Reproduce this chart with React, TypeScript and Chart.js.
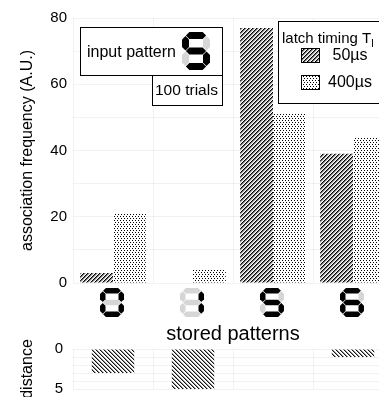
import React, { useEffect, useRef } from "react";
import { Chart, registerables } from "chart.js";

Chart.register(...registerables);

const storedPatterns = ["0", "1", "5", "6"];
const freq50 = [3, 0, 77, 39];
const freq400 = [21, 4, 51, 44];
const distanceValues = [3, 5, 0, 1];
const seriesLabels = ["50µs", "400µs"];
const freqTickLabels = [0, 20, 40, 60, 80];
const distanceTickLabels = [0, 5];
const inputPattern = "5";
const trialCount = 100;

const FONT = "'Liberation Sans', Arial, sans-serif";
const SEGMENTS: Record<string, string> = {
  "0": "abcdef",
  "1": "bc",
  "2": "abged",
  "3": "abgcd",
  "4": "fgbc",
  "5": "afgcd",
  "6": "afgedc",
  "7": "abc",
  "8": "abcdefg",
  "9": "abcdfg",
};

function makePattern(kind: "fwd" | "back" | "dots"): CanvasPattern | string {
  const w = kind === "dots" ? 6 : 4;
  const h = 4;
  const c = document.createElement("canvas");
  c.width = w;
  c.height = h;
  const g = c.getContext("2d");
  if (!g) return "#888";
  const img = g.createImageData(w, h);
  for (let y = 0; y < h; y++) {
    for (let x = 0; x < w; x++) {
      let v = 255;
      if (kind === "fwd") {
        const k = (x + y) % 4;
        v = k === 0 ? 0 : k === 1 ? 110 : k === 2 ? 200 : 255;
      } else if (kind === "back") {
        const k = (x - y + 8) % 4;
        v = k === 0 ? 20 : k === 1 ? 150 : 255;
      } else {
        const dot =
          (y === 0 && (x === 0 || x === 3)) || (y === 2 && (x === 1 || x === 4));
        v = dot ? 0 : 255;
      }
      const i = (y * w + x) * 4;
      img.data[i] = v;
      img.data[i + 1] = v;
      img.data[i + 2] = v;
      img.data[i + 3] = 255;
    }
  }
  g.putImageData(img, 0, 0);
  const p = g.createPattern(c, "repeat");
  return p || "#888";
}

function hSeg(ctx: CanvasRenderingContext2D, x1: number, x2: number, cy: number, t: number) {
  ctx.beginPath();
  ctx.moveTo(x1, cy);
  ctx.lineTo(x1 + t / 2, cy - t / 2);
  ctx.lineTo(x2 - t / 2, cy - t / 2);
  ctx.lineTo(x2, cy);
  ctx.lineTo(x2 - t / 2, cy + t / 2);
  ctx.lineTo(x1 + t / 2, cy + t / 2);
  ctx.closePath();
  ctx.fill();
}

function vSeg(ctx: CanvasRenderingContext2D, y1: number, y2: number, cx: number, t: number) {
  ctx.beginPath();
  ctx.moveTo(cx, y1);
  ctx.lineTo(cx + t / 2, y1 + t / 2);
  ctx.lineTo(cx + t / 2, y2 - t / 2);
  ctx.lineTo(cx, y2);
  ctx.lineTo(cx - t / 2, y2 - t / 2);
  ctx.lineTo(cx - t / 2, y1 + t / 2);
  ctx.closePath();
  ctx.fill();
}

function drawDigit(
  ctx: CanvasRenderingContext2D,
  digit: string,
  x: number,
  y: number,
  w: number,
  h: number,
  t: number
) {
  const on = SEGMENTS[digit] || "";
  const gap = 0.4;
  const l = x + t / 2;
  const r = x + w - t / 2;
  const tp = y + t / 2;
  const md = y + h / 2;
  const bt = y + h - t / 2;
  const segs: Record<string, () => void> = {
    a: () => hSeg(ctx, l + gap, r - gap, tp, t),
    g: () => hSeg(ctx, l + gap, r - gap, md, t),
    d: () => hSeg(ctx, l + gap, r - gap, bt, t),
    f: () => vSeg(ctx, tp + gap, md - gap, l, t),
    b: () => vSeg(ctx, tp + gap, md - gap, r, t),
    e: () => vSeg(ctx, md + gap, bt - gap, l, t),
    c: () => vSeg(ctx, md + gap, bt - gap, r, t),
  };
  ctx.save();
  for (const s of "abcdefg") {
    ctx.fillStyle = on.includes(s) ? "#000" : "#d6d6d6";
    segs[s]();
  }
  ctx.restore();
}

const overlayPlugin = {
  id: "overlay",
  afterDraw(chart: any) {
    const ctx: CanvasRenderingContext2D = chart.ctx;
    const xs = chart.scales.x;
    const area = chart.chartArea;
    // seven-segment category labels
    storedPatterns.forEach((p, i) => {
      const cx = xs.getPixelForValue(i);
      drawDigit(ctx, p, cx - 13, area.bottom + 5, 24, 29, 5.5);
    });

    ctx.save();
    ctx.lineWidth = 1;
    ctx.strokeStyle = "#000";
    ctx.fillStyle = "#fff";
    // input pattern box
    ctx.fillRect(80.5, 27.5, 142, 48);
    ctx.strokeRect(80.5, 27.5, 142, 48);
    ctx.fillStyle = "#000";
    ctx.font = `16px ${FONT}`;
    ctx.textBaseline = "middle";
    ctx.textAlign = "left";
    ctx.fillText("input pattern", 87, 53);
    drawDigit(ctx, inputPattern, 182, 32, 28, 38, 7);
    // trials box
    ctx.fillStyle = "#fff";
    ctx.fillRect(152.5, 75.5, 70, 30);
    ctx.strokeRect(152.5, 75.5, 70, 30);
    ctx.fillStyle = "#000";
    ctx.font = `15.5px ${FONT}`;
    ctx.fillText(`${trialCount} trials`, 155, 91);

    // legend box
    ctx.fillStyle = "#fff";
    ctx.fillRect(278.5, 21.5, 130, 82);
    ctx.strokeRect(278.5, 21.5, 130, 82);
    ctx.fillStyle = "#000";
    ctx.font = `15px ${FONT}`;
    ctx.textBaseline = "alphabetic";
    const title = "latch timing T";
    ctx.fillText(title, 282, 43);
    const tw = ctx.measureText(title).width;
    ctx.font = `11px ${FONT}`;
    ctx.fillText("l", 282 + tw, 47);
    const swY = [48, 75];
    chart.data.datasets.forEach((ds: any, i: number) => {
      ctx.fillStyle = ds.backgroundColor;
      ctx.fillRect(301.5, swY[i] + 0.5, 18, 14);
      ctx.strokeRect(301.5, swY[i] + 0.5, 18, 14);
      ctx.fillStyle = "#000";
      ctx.font = `16px ${FONT}`;
      ctx.textAlign = "center";
      ctx.textBaseline = "middle";
      ctx.fillText(seriesLabels[i], 350, swY[i] + 7.5);
      ctx.textAlign = "left";
    });
    ctx.restore();
  },
};

export default function App() {
  const topRef = useRef<HTMLCanvasElement>(null);
  const botRef = useRef<HTMLCanvasElement>(null);

  useEffect(() => {
    if (!topRef.current || !botRef.current) return;
    Chart.defaults.font.family = FONT;
    const hatch = makePattern("fwd");
    const dots = makePattern("dots");
    const back = makePattern("back");
    const gridColor = "rgba(0,0,0,0.05)";

    const topChart = new Chart(topRef.current, {
      type: "bar",
      data: {
        labels: storedPatterns,
        datasets: [
          {
            label: seriesLabels[0],
            data: freq50,
            backgroundColor: hatch as any,
            borderWidth: 0,
            categoryPercentage: 0.82,
            barPercentage: 1,
          },
          {
            label: seriesLabels[1],
            data: freq400,
            backgroundColor: dots as any,
            borderWidth: 0,
            categoryPercentage: 0.82,
            barPercentage: 1,
          },
        ],
      },
      options: {
        responsive: false,
        animation: false,
        layout: { padding: { top: 18, left: 0, right: 1, bottom: 0 } },
        plugins: { legend: { display: false }, tooltip: { enabled: false } },
        scales: {
          x: {
            grid: { color: gridColor, drawTicks: false, offset: true },
            border: { display: false },
            ticks: { display: false },
            title: {
              display: true,
              text: "stored patterns",
              color: "#000",
              font: { size: 20, family: FONT },
              padding: { top: 39, bottom: 0 },
            },
          },
          y: {
            min: 0,
            max: 80,
            grid: { color: gridColor, drawTicks: false },
            border: { display: false },
            ticks: {
              stepSize: 10,
              autoSkip: false,
              color: "#000",
              padding: 6,
              font: { size: 15, family: FONT },
              callback: (v: any) => (freqTickLabels.includes(Number(v)) ? String(v) : ""),
            },
            title: {
              display: true,
              text: "association frequency (A.U.)",
              color: "#000",
              font: { size: 16, family: FONT },
              padding: { top: 18, bottom: 0 },
            },
            afterFit: (s: any) => {
              s.width = 73;
            },
          },
        },
      },
      plugins: [overlayPlugin],
    });

    const botChart = new Chart(botRef.current, {
      type: "bar",
      data: {
        labels: storedPatterns,
        datasets: [
          {
            label: "distance",
            data: distanceValues,
            backgroundColor: back as any,
            borderWidth: 0,
            categoryPercentage: 0.53,
            barPercentage: 1,
          },
        ],
      },
      options: {
        responsive: false,
        animation: false,
        layout: { padding: { top: 16, left: 0, right: 1, bottom: 21 } },
        plugins: { legend: { display: false }, tooltip: { enabled: false } },
        scales: {
          x: {
            grid: { color: gridColor, drawTicks: false, offset: true },
            border: { display: false },
            ticks: { display: false },
          },
          y: {
            min: 0,
            max: 5,
            reverse: true,
            grid: { color: gridColor, drawTicks: false },
            border: { display: false },
            ticks: {
              stepSize: 1,
              autoSkip: false,
              color: "#000",
              padding: 10,
              font: { size: 15, family: FONT },
              callback: (v: any) => (distanceTickLabels.includes(Number(v)) ? String(v) : ""),
            },
            title: {
              display: true,
              text: "distance",
              color: "#000",
              font: { size: 16, family: FONT },
              padding: { top: 18, bottom: 0 },
            },
            afterFit: (s: any) => {
              s.width = 73;
            },
          },
        },
      },
    });

    return () => {
      topChart.destroy();
      botChart.destroy();
    };
  }, []);

  return (
    <div
      style={{
        position: "absolute",
        left: 0,
        top: 0,
        width: 379,
        height: 397,
        overflow: "hidden",
        background: "#fff",
      }}
    >
      <canvas
        ref={topRef}
        width={394}
        height={346}
        style={{ position: "absolute", left: 0, top: 0 }}
      />
      <canvas
        ref={botRef}
        width={394}
        height={80}
        style={{ position: "absolute", left: 0, top: 330 }}
      />
    </div>
  );
}
